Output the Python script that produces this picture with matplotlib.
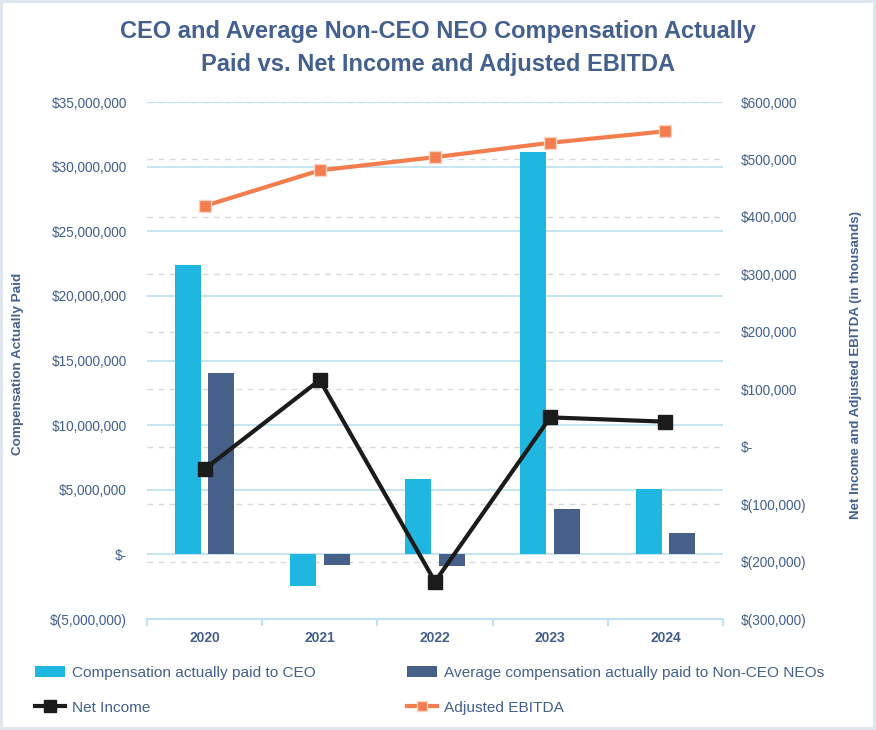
import numpy as np
import matplotlib.pyplot as plt
from matplotlib.ticker import FuncFormatter, MultipleLocator, FixedLocator

plt.rcParams['font.family'] = ['Liberation Sans', 'DejaVu Sans']

# data
years = ['2020', '2021', '2022', '2023', '2024']
ceo_cap = [22_400_000, -2_430_000, 5_840_000, 31_170_000, 5_020_000]
neo_cap = [14_030_000, -830_000, -900_000, 3_480_000, 1_670_000]
net_income = [-39_000, 116_000, -235_000, 51_000, 43_500]      # thousands
adj_ebitda = [419_000, 481_000, 504_000, 529_000, 549_000]     # thousands

navy = '#43608e'
cyan = '#1fb6e0'
slate = '#46608a'
orange = '#f47d4d'
grid_blue = '#bfe3f2'


def money(v, pos=None):
    if abs(v) < 1e-6:
        return '$-'
    if v < 0:
        return '$({:,.0f})'.format(-v)
    return '${:,.0f}'.format(v)


fig = plt.figure(figsize=(8.76, 7.3), dpi=100)
fig.patch.set_facecolor('white')
fig.patch.set_edgecolor('#dfe6ee')
fig.patch.set_linewidth(4)

rect = [147 / 876, 1 - 619 / 730, (723 - 147) / 876, (619 - 102) / 730]
ax1 = fig.add_axes(rect)          # bars, left scale
ax_g = ax1.twinx()                # dashed grid, right scale (behind)
ax2 = ax1.twinx()                 # lines, right scale (front)

ax_g.set_zorder(0)
ax1.set_zorder(1)
ax2.set_zorder(2)
for a in (ax1, ax_g, ax2):
    a.patch.set_visible(False)
    for s in ['top', 'left', 'right', 'bottom']:
        a.spines[s].set_visible(False)

x = np.arange(len(years))
w = 0.226
ax1.bar(x - 0.146, ceo_cap, w, color=cyan, label='Compensation actually paid to CEO', zorder=3)
ax1.bar(x + 0.146, neo_cap, w, color=slate, label='Average compensation actually paid to Non-CEO NEOs', zorder=3)

ax2.plot(x, net_income, color='#1b1b1b', lw=3, marker='s', ms=10, mec='#1b1b1b',
         label='Net Income')
ax2.plot(x, adj_ebitda, color=orange, lw=3, marker='s', ms=9, mec='#fbd3c3', mew=1,
         label='Adjusted EBITDA')

ax1.set_xlim(-0.5, 4.5)
ax1.set_ylim(-5_000_000, 35_000_000)
ax1.yaxis.set_major_locator(MultipleLocator(5_000_000))
ax1.yaxis.set_major_formatter(FuncFormatter(money))
ax1.grid(axis='y', color=grid_blue, lw=1.3, zorder=0)
ax1.set_axisbelow(True)

for a in (ax_g, ax2):
    a.set_ylim(-300_000, 600_000)
    a.yaxis.set_major_locator(MultipleLocator(100_000))
ax2.yaxis.set_major_formatter(FuncFormatter(money))
ax_g.grid(axis='y', color='#d9d9d9', lw=1, ls=(0, (4, 4)))
ax_g.tick_params(axis='y', right=False, labelright=False)

ax1.tick_params(axis='y', left=False, labelsize=9.8, labelcolor=navy, pad=11)
ax2.tick_params(axis='y', right=False, labelsize=9.8, labelcolor=navy, pad=9)

# x axis: labels at centres, ticks at category boundaries
ax1.spines['bottom'].set_visible(True)
ax1.spines['bottom'].set_color(grid_blue)
ax1.spines['bottom'].set_linewidth(1.5)
ax1.spines['bottom'].set_position(('data', -5_000_000))
ax1.set_xticks(x)
ax1.set_xticklabels(years, fontweight='bold', color=navy, fontsize=10)
ax1.tick_params(axis='x', which='major', length=0, pad=9)
ax1.xaxis.set_minor_locator(FixedLocator(np.arange(-0.5, 5, 1.0)))
ax1.tick_params(axis='x', which='minor', length=5, color=grid_blue, width=1.5)
for a in (ax_g, ax2):
    a.tick_params(axis='x', bottom=False, labelbottom=False)

fig.text(18 / 876, 1 - 364 / 730, 'Compensation Actually Paid', rotation=90,
         ha='center', va='center', fontsize=9.7, fontweight='bold', color=navy)
fig.text(856 / 876, 1 - 365 / 730, 'Net Income and Adjusted EBITDA (in thousands)',
         rotation=90, ha='center', va='center', fontsize=9.6, fontweight='bold', color=navy)

fig.text(0.5, 1 - 48 / 730,
         'CEO and Average Non-CEO NEO Compensation Actually\nPaid vs. Net Income and Adjusted EBITDA',
         ha='center', va='center', fontsize=17, fontweight='bold', color=navy, linespacing=1.6)

h1, l1 = ax1.get_legend_handles_labels()
h2, l2 = ax2.get_legend_handles_labels()
handles = [h1[0], h2[0], h1[1], h2[1]]
labels = [l1[0], l2[0], l1[1], l2[1]]
fig.legend(handles, labels, loc='upper left', bbox_to_anchor=(21 / 876, 1 - 652 / 730),
           ncol=2, frameon=False, fontsize=11.1, labelcolor=navy, handlelength=1.95,
           handletextpad=0.45, columnspacing=5.9, labelspacing=1.35, markerscale=0.8)

fig.savefig('out.png', dpi=100, facecolor=fig.get_facecolor(), edgecolor=fig.get_edgecolor())
